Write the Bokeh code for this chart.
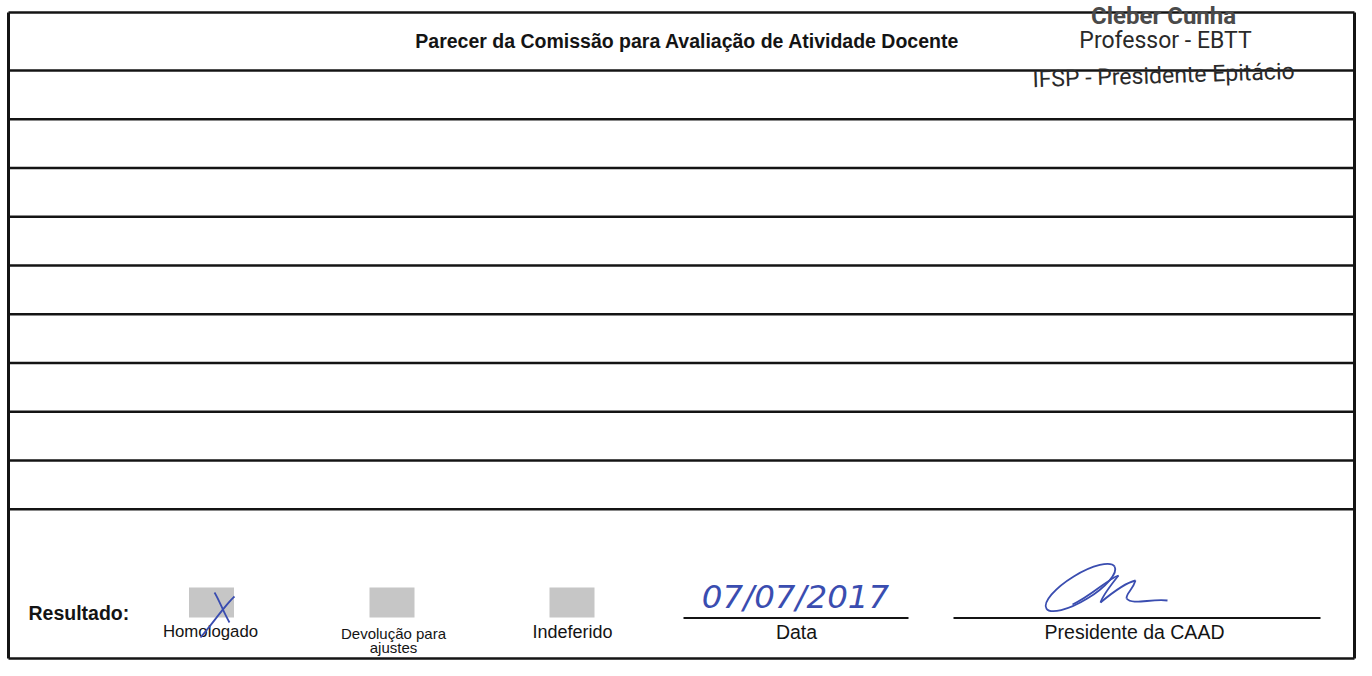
from bokeh.plotting import figure
from bokeh.models import Range1d
from bokeh.core.properties import value
from bokeh.embed import file_html
from bokeh.resources import INLINE

# ---- content ----
title_text = "Parecer da Comissão para Avaliação de Atividade Docente"
stamp_lines = ["Cleber Cunha", "Professor - EBTT", "IFSP - Presidente Epitácio"]
result_label = "Resultado:"
option_labels = ["Homologado", "Devolução para", "Indeferido"]
option_sub = ["", "ajustes", ""]
option_checked = [True, False, False]
date_text = "07/07/2017"
sign_labels = ["Data", "Presidente da CAAD"]
n_rows = 9

# ---- layout (picture pixel coordinates) ----
W, H = 1356, 660
LEFT, RIGHT, TOP, BOTTOM = 8, W - 2, 12, H - 2
header_line = 70
row_h = 48.75
row_lines = [header_line + i * row_h for i in range(n_rows + 1)]
opt_x = [211, 391.5, 571.5]
opt_label_x = [210, 393, 572]
SQ_Y0, SQ_Y1 = 587, 617
BLUE = "#3a4db0"
INK = "#141414"
FONT = value("Liberation Sans")

p = figure(width=W, height=H, x_range=Range1d(0, W), y_range=Range1d(H, 0),
           toolbar_location=None, output_backend="svg", min_border=0)
p.axis.visible = False
p.grid.visible = False
p.outline_line_color = None
p.background_fill_color = "white"
p.border_fill_color = "white"

# frame
hl = [TOP] + row_lines + [BOTTOM]
p.segment(x0=[LEFT] * len(hl), x1=[RIGHT] * len(hl), y0=hl, y1=hl,
          line_color=INK, line_width=2.6)
p.segment(x0=[LEFT, RIGHT], x1=[LEFT, RIGHT], y0=[TOP, TOP], y1=[BOTTOM, BOTTOM],
          line_color=INK, line_width=3)

# title
p.text(x=[687], y=[40], text=[title_text], text_font=FONT, text_font_style="bold",
       text_font_size="19.5px", text_align="center", text_baseline="middle", text_color=INK)

# stamp
SFONT = value("Roboto")
p.text(x=[1163], y=[15], text=[stamp_lines[0]], text_font=SFONT,
       text_font_style="bold", text_font_size="24px", text_align="center",
       text_baseline="middle", text_color="#4a4a4a")
p.text(x=[1165], y=[40], text=[stamp_lines[1]], text_font=SFONT,
       text_font_size="23px", text_align="center", text_baseline="middle", text_color="#2a2a2a")
p.text(x=[1163], y=[75], text=[stamp_lines[2]], text_font=SFONT,
       text_font_size="23px", text_align="center", text_baseline="middle", text_color="#2a2a2a",
       angle=0.032)

# result section
p.text(x=[28], y=[612], text=[result_label], text_font=FONT, text_font_style="bold",
       text_font_size="19.5px", text_align="left", text_baseline="middle", text_color=INK)
p.quad(left=[x - 22.5 for x in opt_x], right=[x + 22.5 for x in opt_x],
       top=[SQ_Y0] * 3, bottom=[SQ_Y1] * 3, fill_color="#c6c6c6", line_color=None)
p.text(x=[opt_label_x[0]], y=[631], text=[option_labels[0]], text_font=FONT,
       text_font_size="16.8px", text_align="center", text_baseline="middle", text_color=INK)
p.text(x=[opt_label_x[2]], y=[631], text=[option_labels[2]], text_font=FONT,
       text_font_size="18px", text_align="center", text_baseline="middle", text_color=INK)
p.text(x=[opt_label_x[1], opt_label_x[1]], y=[633, 647],
       text=[option_labels[1], option_sub[1]], text_font=FONT, text_font_size="15px",
       text_align="center", text_baseline="middle", text_color=INK)

# check mark (handwritten X) on checked option
for cx, chk in zip(opt_x, option_checked):
    if chk:
        p.bezier(x0=[cx + 3], y0=[592], x1=[cx + 18], y1=[622], cx0=[cx + 8], cy0=[600],
                 cx1=[cx + 12], cy1=[612], line_color=BLUE, line_width=1.8)
        p.bezier(x0=[cx + 23], y0=[596], x1=[cx - 11], y1=[637], cx0=[cx + 14], cy0=[604],
                 cx1=[cx + 2], cy1=[622], line_color=BLUE, line_width=1.8)

# signature lines
p.segment(x0=[683, 953], x1=[908, 1320], y0=[617.5, 617.5], y1=[617.5, 617.5],
          line_color=INK, line_width=2)
p.text(x=[796, 1134], y=[631, 631], text=sign_labels, text_font=FONT,
       text_font_size="19.5px", text_align="center", text_baseline="middle", text_color=INK)

# handwritten date
p.text(x=[795], y=[596], text=[date_text], text_font=value("DejaVu Sans"),
       text_font_style="italic", text_font_size="32.5px", text_align="center",
       text_baseline="middle", text_color=BLUE)

# signature scribble
p.ellipse(x=[1080], y=[587], width=[80], height=[26], angle=0.55,
          fill_color=None, line_color=BLUE, line_width=1.8)
p.bezier(x0=[1072, 1118, 1100, 1135, 1126],
         y0=[604, 575, 602, 580, 598],
         x1=[1118, 1100, 1135, 1126, 1167],
         y1=[575, 602, 580, 598, 600],
         cx0=[1090, 1110, 1112, 1132, 1132],
         cy0=[596, 585, 592, 590, 605],
         cx1=[1108, 1102, 1126, 1126, 1150],
         cy1=[578, 596, 582, 592, 598],
         line_color=BLUE, line_width=1.8)

open("out.html", "w").write(file_html(p, INLINE))
